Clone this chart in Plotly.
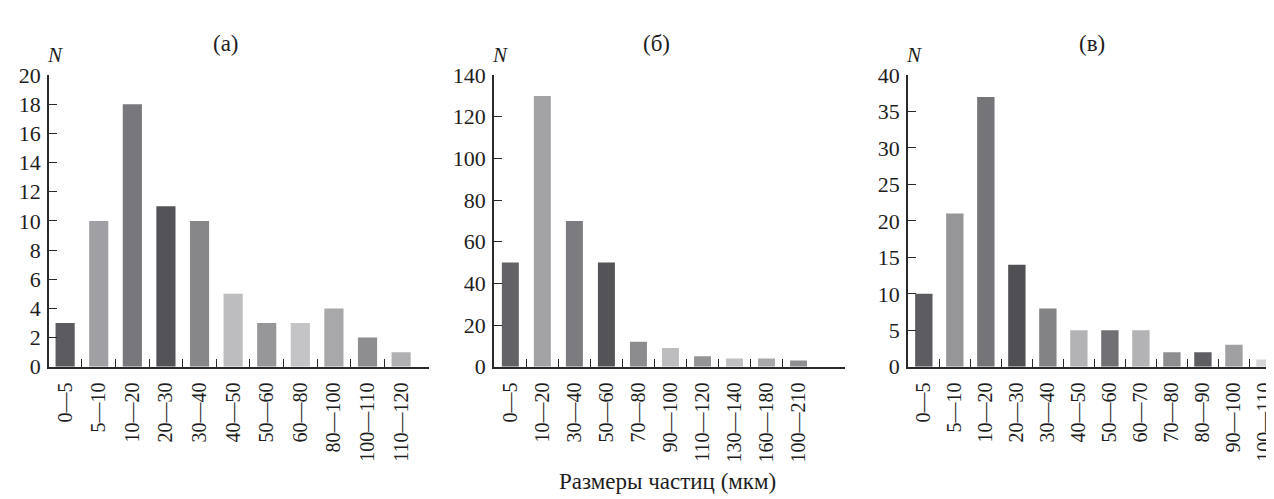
import plotly.graph_objects as go

# ---- data ----
cats_a = ["0—5", "5—10", "10—20", "20—30", "30—40", "40—50", "50—60", "60—80", "80—100", "100—110", "110—120"]
vals_a = [3, 10, 18, 11, 10, 5, 3, 3, 4, 2, 1]
cols_a = ["#5c5c60", "#a0a0a4", "#77777c", "#545458", "#87878a", "#bdbdbf", "#97979a", "#c4c4c6", "#a8a8ab", "#8e8e91", "#b0b0b3"]

cats_b = ["0—5", "10—20", "30—40", "50—60", "70—80", "90—100", "110—120", "130—140", "160—180", "100—210"]
vals_b = [50, 130, 70, 50, 12, 9, 5, 4, 4, 3]
cols_b = ["#636367", "#a3a3a6", "#7c7c80", "#545458", "#8c8c8f", "#bdbdbf", "#949497", "#c0c0c2", "#a8a8aa", "#909093"]

cats_c = ["0—5", "5—10", "10—20", "20—30", "30—40", "40—50", "50—60", "60—70", "70—80", "80—90", "90—100", "100—110"]
vals_c = [10, 21, 37, 14, 8, 5, 5, 5, 2, 2, 3, 1]
cols_c = ["#5d5d61", "#969699", "#747479", "#505054", "#838386", "#b3b3b5", "#717175", "#b3b3b5", "#8e8e91", "#5e5e62", "#a0a0a3", "#d5d5d7"]

panel_titles = ["(а)", "(б)", "(в)"]
y_max = [20, 140, 40]
y_step = [2, 20, 5]
x_title = "Размеры частиц (мкм)"

W, H = 1274, 499
FONT = "Liberation Serif"
TXT = "#1e1e1e"
AX = "#2a2a2a"

panels = [(cats_a, vals_a, cols_a), (cats_b, vals_b, cols_b), (cats_c, vals_c, cols_c)]
# pixel layout of each plotting area
x_px = [(41, 421), (486, 837), (900, 1274)]
x_rng = [(-0.48, 10.83), (-0.51, 10.45), (-0.51, 11.55)]
gaps = [0.43, 0.47, 0.44]
title_pos = [0.466, 0.464, 0.492]
y_dom = [1 - 365 / H, 1 - 58 / H]

fig = go.Figure()
layout = dict(
    width=W, height=H, margin=dict(l=0, r=0, t=0, b=0),
    paper_bgcolor="white", plot_bgcolor="white", showlegend=False,
    font=dict(family=FONT, size=20, color=TXT),
)
annotations = []
for i, ((cats, vals, cols), (x0, x1), rng, gap) in enumerate(zip(panels, x_px, x_rng, gaps)):
    n = "" if i == 0 else str(i + 1)
    idx = list(range(len(cats)))
    fig.add_trace(go.Bar(
        x=idx, y=vals, width=1 - gap, marker=dict(color=cols, line=dict(width=0)),
        xaxis="x" + n, yaxis="y" + n, hoverinfo="x+y",
    ))
    layout["xaxis" + n] = dict(
        domain=[x0 / W, x1 / W], anchor="y" + n, range=list(rng),
        tickmode="array", tickvals=idx, ticktext=cats, tickangle=-90,
        ticks="", showgrid=False, zeroline=False,
        showline=True, linecolor=AX, linewidth=1.5,
        tickfont=dict(family=FONT, size=20, color=TXT),
        ticklabelstandoff=6, ticklabeloverflow="allow",
        minor=dict(tickmode="array", tickvals=[k + 0.5 for k in idx[:-1]],
                   ticks="inside", ticklen=8, tickwidth=1.2, tickcolor=AX, showgrid=False),
    )
    layout["yaxis" + n] = dict(
        domain=y_dom, anchor="x" + n, range=[0, y_max[i]], dtick=y_step[i],
        ticks="inside", ticklen=8, tickwidth=1.2, tickcolor=AX,
        showgrid=False, zeroline=False, showline=True, linecolor=AX, linewidth=1.5,
        tickfont=dict(family=FONT, size=22, color=TXT), ticklabelstandoff=2,
    )
    annotations.append(dict(
        text=panel_titles[i], xref="x" + n + " domain", yref="paper",
        x=title_pos[i], y=1 - 25 / H, xanchor="center", yanchor="middle",
        showarrow=False, font=dict(family=FONT, size=23, color=TXT),
    ))
    annotations.append(dict(
        text="<i>N</i>", xref="x" + n + " domain", yref="paper",
        x=0.0, y=1 - 37 / H, xanchor="center", yanchor="middle", xshift=6,
        showarrow=False, font=dict(family=FONT, size=21, color=TXT),
    ))
annotations.append(dict(
    text=x_title, xref="paper", yref="paper", x=659 / W, y=1 - 486 / H,
    xanchor="center", yanchor="middle", showarrow=False,
    font=dict(family=FONT, size=23, color=TXT),
))
layout["annotations"] = annotations
fig.update_layout(**layout)
fig.write_html("out.html")
